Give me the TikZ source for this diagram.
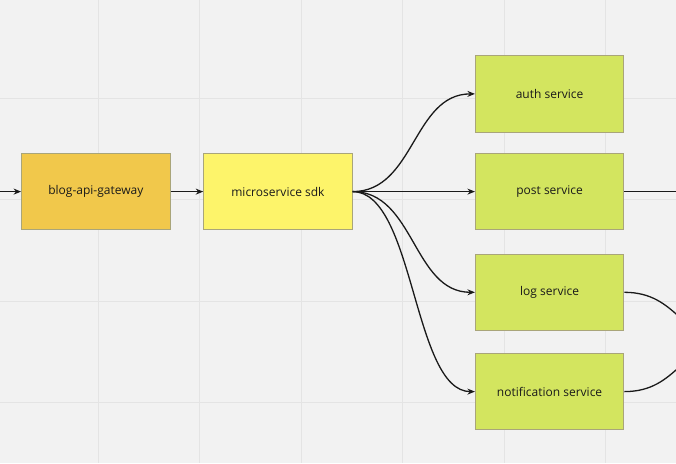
\documentclass[tikz,border=0pt]{standalone}
\usepackage{fontspec}
\setmainfont{Open Sans}
\usetikzlibrary{arrows.meta}
\definecolor{canvas}{HTML}{F2F2F2}
\definecolor{gridline}{HTML}{E4E4E4}
\definecolor{gatewayfill}{HTML}{F1C84B}
\definecolor{sdkfill}{HTML}{FDF46A}
\definecolor{svcfill}{HTML}{D3E55F}
\definecolor{edge}{HTML}{A9A57A}
\definecolor{ink}{HTML}{1A1A1A}
\tikzset{
  box/.style={draw=edge, line width=0.9pt, minimum width=148.5pt, minimum height=76.5pt,
              inner sep=0pt, font=\fontsize{12}{14}\selectfont, text=ink},
  gatewaybox/.style={box, fill=gatewayfill},
  sdkbox/.style={box, fill=sdkfill},
  svcbox/.style={box, fill=svcfill},
  link/.style={draw=ink, line width=1.3pt, -{Stealth[length=7.5pt,width=6pt]}},
  plain/.style={draw=ink, line width=1.3pt},
}
\begin{document}
\begin{tikzpicture}[x=1pt,y=-1pt]
  % canvas and grid
  \fill[canvas] (0,0) rectangle (676,463);
  \useasboundingbox (0,0) rectangle (676,463);
  \foreach \gx in {98.3,199.8,301.3,402.8,504.3,605.8}
    \draw[gridline, line width=1pt] (\gx,0) -- (\gx,463);
  \foreach \gy in {98.3,199.8,301.3,402.8}
    \draw[gridline, line width=1pt] (0,\gy) -- (676,\gy);

  % nodes
  \node[gatewaybox] (gw)    at (95.8,191.6)  {blog-api-gateway};
  \node[sdkbox]     (sdk)   at (277.9,191.6) {microservice sdk};
  \node[svcbox]     (auth)  at (549.6,93.9)  {auth service};
  \node[svcbox]     (post)  at (549.6,191.6) {post service};
  \node[svcbox]     (log)   at (549.6,292.3) {log service};
  \node[svcbox]     (notif) at (549.6,391.6) {notification service};

  % loose ends beyond the canvas
  \coordinate (in)   at (-5,191.6);
  \coordinate (out)  at (690,191.6);
  \coordinate (sink) at (735,341.9);

  % connectors
  \draw[link] (in) -- (gw.west);
  \draw[link] (gw.east) -- (sdk.west);
  \draw[link] (sdk.east) -- (post.west);
  \draw[link] (sdk.east) .. controls +(62,0) and +(-62,0) .. (auth.west);
  \draw[link] (sdk.east) .. controls +(62,0) and +(-62,0) .. (log.west);
  \draw[link] (sdk.east) .. controls +(62,0) and +(-62,0) .. (notif.west);
  \draw[plain] (post.east) -- (out);
  \draw[plain] (log.east) .. controls +(55,0) and +(-55,0) .. (sink);
  \draw[plain] (notif.east) .. controls +(55,0) and +(-55,0) .. (sink);
\end{tikzpicture}
\end{document}
